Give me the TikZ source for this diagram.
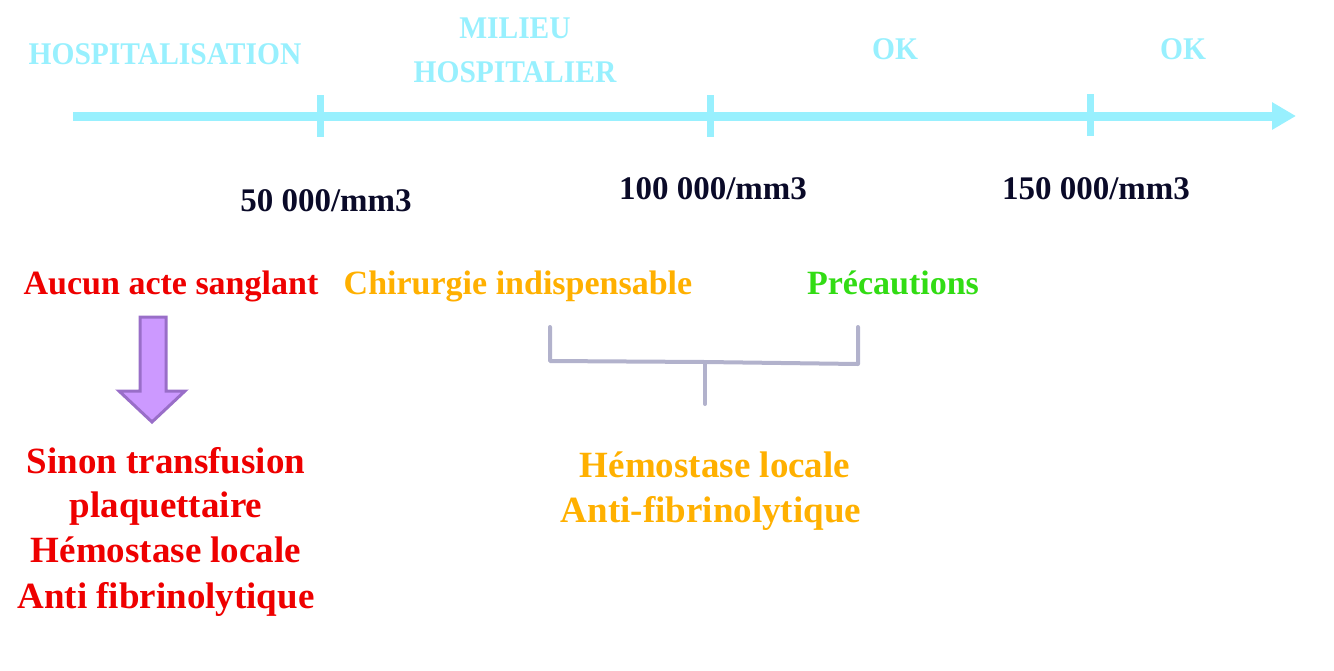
\documentclass[tikz,border=0pt]{standalone}
\usepackage{fontspec}
\setmainfont{Liberation Serif}
\usetikzlibrary{arrows.meta}
\definecolor{axiscyan}{RGB}{152,240,254}
\definecolor{numnavy}{RGB}{10,10,40}
\definecolor{redtxt}{RGB}{238,0,0}
\definecolor{orangetxt}{RGB}{255,176,0}
\definecolor{greentxt}{RGB}{50,220,20}
\definecolor{arrowfill}{RGB}{204,153,255}
\definecolor{arrowedge}{RGB}{153,110,200}
\definecolor{bracketcol}{RGB}{178,178,204}
\tikzset{
  hdr/.style={text=axiscyan,font=\bfseries\fontsize{29.5}{44}\selectfont,inner sep=0pt,anchor=base,yscale=1.07},
  num/.style={text=numnavy,font=\bfseries\fontsize{33}{40}\selectfont,inner sep=0pt,anchor=base},
  rowtxt/.style={font=\bfseries\fontsize{34}{40}\selectfont,inner sep=0pt,anchor=base},
  blk/.style={font=\bfseries\fontsize{37}{45}\selectfont,inner sep=0pt,anchor=base},
  tickmark/.style={axiscyan,line width=7pt},
  brk/.style={bracketcol,line width=4pt,line cap=round,line join=round}
}
\begin{document}
\begin{tikzpicture}[x=1pt,y=-1pt]
\useasboundingbox (0,0) rectangle (1334,670);
% axis
\coordinate (a0) at (73,116);
\coordinate (a1) at (1296,116);
\draw[axiscyan,line width=9pt,-{Triangle[length=24pt,width=26pt]}] (a0) -- (a1);
\coordinate (t1a) at (320,95); \coordinate (t1b) at (320,137);
\coordinate (t2a) at (710,95); \coordinate (t2b) at (710,137);
\coordinate (t3a) at (1090,94); \coordinate (t3b) at (1090,136);
\draw[tickmark] (t1a) -- (t1b);
\draw[tickmark] (t2a) -- (t2b);
\draw[tickmark] (t3a) -- (t3b);
% headers
\node[hdr] (h1) at (165,64) {HOSPITALISATION};
\node[hdr] (h2a) at (515,38.5) {MILIEU};
\node[hdr] (h2b) at (515,82.5) {HOSPITALIER};
\node[hdr] (h3) at (895,59.5) {OK};
\node[hdr] (h4) at (1183,59.5) {OK};
% numbers
\node[num] (n1) at (326,211) {50 000/mm3};
\node[num] (n2) at (713,199) {100 000/mm3};
\node[num] (n3) at (1096,199) {150 000/mm3};
% row
\node[rowtxt,text=redtxt] (r1) at (171,294) {Aucun acte sanglant};
\node[rowtxt,text=orangetxt] (r2) at (518,294) {Chirurgie indispensable};
\node[rowtxt,text=greentxt] (r3) at (893,294) {Précautions};
% purple arrow
\draw[fill=arrowfill,draw=arrowedge,line width=3pt,line join=miter]
  (140,317) -- (166,317) -- (166,391) -- (185,391) -- (152,422) -- (119,391) -- (140,391) -- cycle;
% bracket
\coordinate (bl) at (550,327); \coordinate (blb) at (550,361);
\coordinate (br) at (858,327); \coordinate (brb) at (858,364);
\coordinate (bm) at (705,362); \coordinate (bs) at (705,404);
\draw[brk] (bl) -- (blb) -- (bm) -- (brb) -- (br);
\draw[brk] (bm) -- (bs);
% red block
\node[blk,text=redtxt] (b1a) at (166,473) {Sinon transfusion};
\node[blk,text=redtxt] (b1b) at (166,517) {plaquettaire};
\node[blk,text=redtxt] (b1c) at (166,562) {Hémostase locale};
\node[blk,text=redtxt] (b1d) at (166,608) {Anti fibrinolytique};
% orange block
\node[blk,text=orangetxt] (b2a) at (715,477) {Hémostase locale};
\node[blk,text=orangetxt] (b2b) at (711,522) {Anti-fibrinolytique};
\end{tikzpicture}
\end{document}
